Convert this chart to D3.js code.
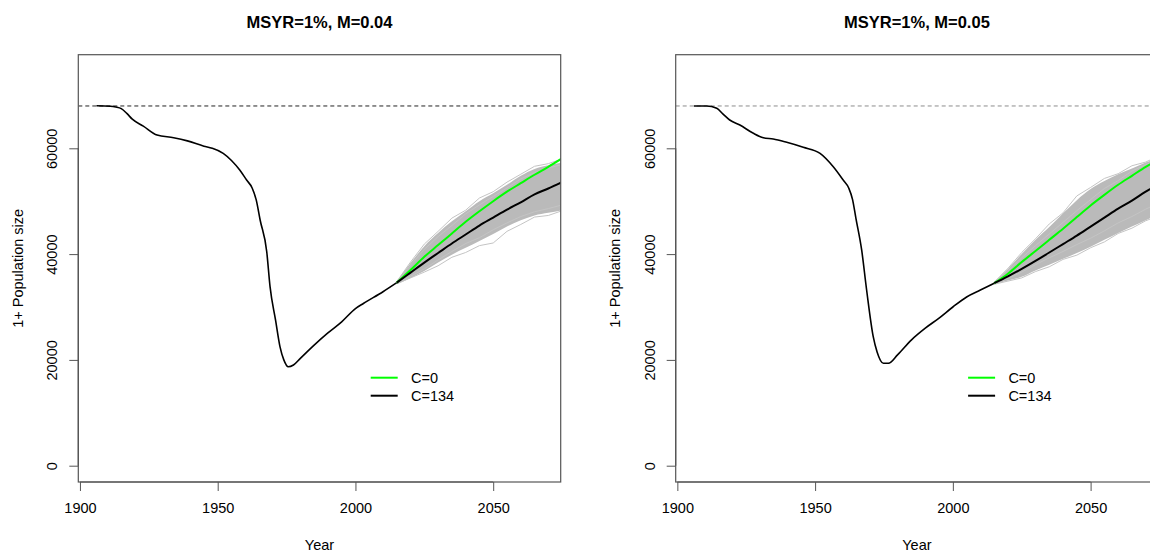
<!DOCTYPE html>
<html>
<head>
<meta charset="utf-8">
<script src="https://cdn.jsdelivr.net/npm/d3@7.9.0/dist/d3.min.js"></script>
<style>
  body { margin: 0; background: #fff; }
  svg { display: block; font-family: "Liberation Sans", Arial, sans-serif; }
</style>
</head>
<body>
<svg id="chart" width="1150" height="553"></svg>
<script>
// ---- data ----
const titles = ["MSYR=1%, M=0.04", "MSYR=1%, M=0.05"];
const xTicks = [1900, 1950, 2000, 2050];
const yTicks = [0, 20000, 40000, 60000];
const K = 68000;

const histYearsA = [1906, 1911, 1913, 1915, 1917, 1919, 1923, 1928, 1934, 1939, 1945, 1948, 1952, 1955, 1958, 1960.5, 1962.5, 1964, 1965.4, 1967.8, 1969, 1971, 1972.6, 1974, 1975.6, 1977.5, 1980, 1985, 1990, 1995, 2000, 2003, 2010, 2015];
const histPopA   = [68050, 67950, 67800, 67500, 66600, 65500, 64200, 62500, 62000, 61400, 60400, 60000, 59050, 57700, 55900, 54000, 52500, 50200, 46450, 40450, 33840, 27500, 22500, 20000, 18700, 19040, 20300, 22800, 25100, 27200, 29700, 30700, 32890, 34600];

const histYearsB = [1906, 1910.6, 1914.3, 1916.5, 1919, 1922.7, 1927.6, 1931.2, 1934.8, 1939.7, 1945.7, 1951.8, 1956.6, 1960.2, 1962.2, 1963.6, 1964.8, 1966.9, 1968.7, 1971.1, 1972.5, 1974.8, 1976.6, 1980, 1985, 1990, 1995, 2000, 2005, 2010, 2015];
const histPopB   = [68000, 68000, 67560, 66500, 65350, 64400, 62830, 62000, 61760, 61130, 60190, 59050, 56520, 54000, 52500, 50300, 46800, 40780, 33210, 24390, 21500, 19360, 19360, 21000, 23800, 26000, 27900, 30000, 31900, 33200, 34500];

const projYears = [2015, 2020, 2025, 2030, 2035, 2040, 2045, 2050, 2055, 2060, 2065, 2070, 2075];

const greenA = [34600, 37000, 39500, 41700, 43900, 46100, 48100, 50000, 51800, 53400, 55000, 56500, 58100];
const blackA = [34600, 36500, 38400, 40200, 42000, 43700, 45400, 46900, 48400, 49800, 51300, 52400, 53600];
const upperA = [34900, 38300, 41500, 44000, 46200, 48100, 50000, 51500, 53100, 54800, 56100, 56800, 57300];
const lowerA = [34300, 35500, 36800, 38400, 39900, 41200, 42500, 43800, 45200, 46400, 47300, 47800, 48300];
const simsA = [
  [34800, 38500, 41900, 44300, 46800, 48300, 50600, 51800, 53600, 55100, 56600, 57100, 58000],
  [34400, 35500, 36600, 37800, 39400, 40300, 41600, 42100, 44300, 45600, 47000, 47300, 48200],
  [34500, 35800, 37200, 38900, 40500, 42000, 43100, 44600, 45900, 47100, 48000, 48600, 49300],
  [34700, 37900, 40900, 43300, 45400, 47600, 49300, 50900, 52500, 54200, 55400, 56300, 56900]
];

const greenB = [34500, 36300, 38500, 40600, 42700, 44800, 47000, 49200, 51200, 53100, 54800, 56500, 57900];
const blackB = [34500, 35800, 37200, 38700, 40300, 41900, 43500, 45200, 46900, 48600, 50100, 51800, 53300];
const upperB = [34700, 37200, 40000, 42700, 45100, 47700, 50200, 52300, 53800, 55100, 56200, 57300, 58300];
const lowerB = [34300, 35000, 35700, 36900, 38000, 39100, 40200, 41400, 42700, 44000, 45200, 46400, 47600];
const simsB = [
  [34700, 37300, 40300, 42900, 45700, 47800, 51000, 52600, 54300, 55200, 56700, 57400, 58600],
  [34300, 34900, 35500, 36700, 37600, 39000, 39800, 41200, 42300, 43900, 44900, 46300, 47300],
  [34400, 35400, 36600, 38000, 39300, 40500, 41800, 43000, 44400, 45900, 47100, 48500, 49700],
  [34600, 36800, 39300, 41600, 43800, 46000, 48200, 50300, 52400, 53900, 55700, 56900, 58000]
];

const legendLabels = ["C=0", "C=134"];
const legendColors = ["#00ff00", "#000000"];

const panels = [
  { title: titles[0], hy: histYearsA, hp: histPopA, green: greenA, black: blackA, upper: upperA, lower: lowerA, sims: simsA, dash: "#222" },
  { title: titles[1], hy: histYearsB, hp: histPopB, green: greenB, black: blackB, upper: upperB, lower: lowerB, sims: simsB, dash: "#8c8c8c" }
];

// ---- layout ----
const svg = d3.select("#chart");
const boxLeft = 78.3, boxRight = 560.7, boxTop = 54.7, boxBottom = 482;
const panelShift = 597.4;

const y = d3.scaleLinear().domain([0, 60000]).range([465.7, 148.3]);

panels.forEach((p, i) => {
  const off = i * panelShift;
  const x = d3.scaleLinear().domain([1899.4, 2074.5]).range([boxLeft + off, boxRight + off]);
  const g = svg.append("g");

  const clipId = "clip" + i;
  svg.append("clipPath").attr("id", clipId)
    .append("rect")
    .attr("x", boxLeft + off).attr("y", boxTop)
    .attr("width", boxRight - boxLeft).attr("height", boxBottom - boxTop);

  const plot = g.append("g").attr("clip-path", `url(#${clipId})`);

  // carrying capacity
  plot.append("line")
    .attr("x1", boxLeft + off).attr("x2", boxRight + off)
    .attr("y1", y(K)).attr("y2", y(K))
    .attr("stroke", p.dash).attr("stroke-width", 1)
    .attr("stroke-dasharray", "4,3");

  // simulation envelope
  const area = d3.area()
    .x((d, j) => x(projYears[j]))
    .y0((d, j) => y(p.lower[j]))
    .y1((d, j) => y(p.upper[j]))
    .curve(d3.curveMonotoneX);
  plot.append("path").datum(p.upper).attr("d", area).attr("fill", "#bababa");

  const line = d3.line()
    .x((d, j) => x(projYears[j]))
    .y(d => y(d));

  p.sims.forEach(s => {
    plot.append("path").datum(s).attr("d", line)
      .attr("fill", "none").attr("stroke", "#c4c4c4").attr("stroke-width", 1);
  });

  // historical trajectory
  const hLine = d3.line()
    .x((d, j) => x(p.hy[j]))
    .y(d => y(d))
    .curve(d3.curveMonotoneX);
  plot.append("path").datum(p.hp).attr("d", hLine)
    .attr("fill", "none").attr("stroke", "#000").attr("stroke-width", 1.6);

  const smooth = d3.line()
    .x((d, j) => x(projYears[j]))
    .y(d => y(d))
    .curve(d3.curveMonotoneX);
  plot.append("path").datum(p.green).attr("d", smooth)
    .attr("fill", "none").attr("stroke", "#00ff00").attr("stroke-width", 2);
  plot.append("path").datum(p.black).attr("d", smooth)
    .attr("fill", "none").attr("stroke", "#000").attr("stroke-width", 2);

  // box
  g.append("rect")
    .attr("x", boxLeft + off).attr("y", boxTop)
    .attr("width", boxRight - boxLeft).attr("height", boxBottom - boxTop)
    .attr("fill", "none").attr("stroke", "#555").attr("stroke-width", 1.2);

  // axes
  const xAxis = d3.axisBottom(x).tickValues(xTicks).tickSize(9).tickPadding(12).tickFormat(d3.format("d"));
  const xg = g.append("g").attr("transform", `translate(0,${boxBottom})`).call(xAxis);
  xg.select(".domain").attr("stroke", "#555").attr("stroke-width", 1.2)
    .attr("d", `M${x(1900)},0H${x(2050)}`);
  xg.selectAll(".tick line").attr("stroke", "#555");
  xg.selectAll("text").attr("font-size", 14.5).attr("fill", "#000")
    .attr("font-family", "'Liberation Sans', Arial, sans-serif");

  const yAxis = d3.axisLeft(y).tickValues(yTicks).tickSize(9).tickFormat(d3.format("d"));
  const yg = g.append("g").attr("transform", `translate(${boxLeft + off},0)`).call(yAxis);
  yg.select(".domain").attr("stroke", "#555").attr("stroke-width", 1.2)
    .attr("d", `M0,${y(0)}V${y(60000)}`);
  yg.selectAll(".tick line").attr("stroke", "#555");
  yg.selectAll("text")
    .attr("font-size", 14.5).attr("fill", "#000")
    .attr("font-family", "'Liberation Sans', Arial, sans-serif")
    .attr("x", null).attr("dy", null)
    .attr("text-anchor", "middle")
    .attr("transform", "translate(-26,0) rotate(-90)")
    .attr("y", 0).attr("dy", "0.35em");

  // titles and labels
  const cx = (boxLeft + boxRight) / 2 + off;
  g.append("text").attr("x", cx).attr("y", 28)
    .attr("text-anchor", "middle").attr("font-weight", "bold").attr("font-size", 16.5)
    .text(p.title);
  g.append("text").attr("x", cx).attr("y", 550)
    .attr("text-anchor", "middle").attr("font-size", 14.5)
    .text("Year");
  g.append("text")
    .attr("transform", `translate(${23 + off},${(boxTop + boxBottom) / 2}) rotate(-90)`)
    .attr("text-anchor", "middle").attr("font-size", 14.5)
    .text("1+ Population size");

  // legend
  legendLabels.forEach((lab, k) => {
    const ly = 377.7 + k * 18;
    g.append("line")
      .attr("x1", 370.7 + off).attr("x2", 397.7 + off)
      .attr("y1", ly).attr("y2", ly)
      .attr("stroke", legendColors[k]).attr("stroke-width", 2);
    g.append("text").attr("x", 411 + off).attr("y", ly + 5.5)
      .attr("font-size", 14.5).text(lab);
  });
});
</script>
</body>
</html>
